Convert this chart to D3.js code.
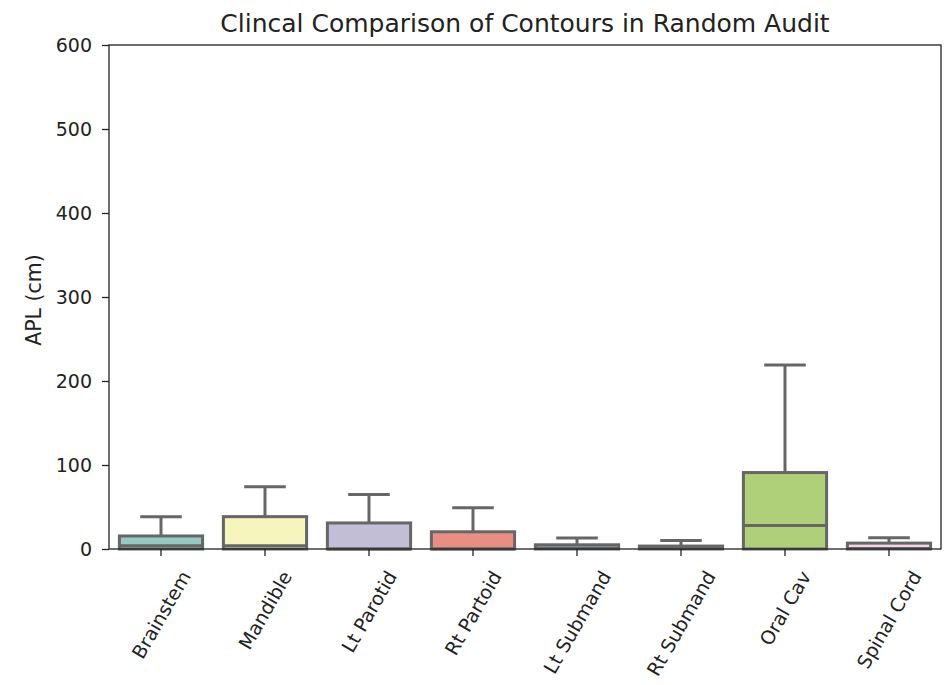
<!DOCTYPE html>
<html lang="en">
<head>
<meta charset="UTF-8">
<title>Clincal Comparison of Contours in Random Audit</title>
<script src="https://d3js.org/d3.v7.min.js"></script>
<style>
  body { margin: 0; background: #fff; }
  text { font-family: "DejaVu Sans", sans-serif; fill: #222; }
</style>
</head>
<body>
<div id="chart"></div>
<script>
// data (APL in cm)
const categories = ["Brainstem", "Mandible", "Lt Parotid", "Rt Partoid", "Lt Submand", "Rt Submand", "Oral Cav", "Spinal Cord"];
const whiskerLow = [0, 0, 0, 0, 0, 0, 0, 0];
const q1 = [0, 0, 0, 0, 0, 0, 0, 0];
const median = [4, 4, 0, 0, 1, 0.5, 28, 0.5];
const q3 = [15.5, 38.5, 31, 20.5, 5, 3.5, 91, 7];
const whiskerHigh = [38.5, 74, 65, 49, 13, 10, 219, 13.5];
const yTicks = [0, 100, 200, 300, 400, 500, 600];
const palette = ["#8dd3c7", "#ffffb3", "#bebada", "#fb8072", "#80b1d3", "#fdb462", "#b3de69", "#fccde5"];

const width = 946, height = 685;
const margin = {top: 45, right: 5, bottom: 136, left: 109};
const lineColor = "#666666";
const tickFont = 19;

const svg = d3.select("#chart").append("svg")
    .attr("width", width)
    .attr("height", height);

const x = d3.scaleBand()
    .domain(categories)
    .range([margin.left, width - margin.right])
    .paddingInner(0.2)
    .paddingOuter(0.1);

const y = d3.scaleLinear()
    .domain([0, 600])
    .range([height - margin.bottom, margin.top]);

// seaborn-style desaturated fills
const fill = (c) => { const h = d3.hsl(c); h.s *= 0.75; return h.formatHex(); };

const rows = categories.map((c, i) => ({
  name: c, lo: whiskerLow[i], q1: q1[i], med: median[i], q3: q3[i], hi: whiskerHigh[i], color: fill(palette[i])
}));

const g = svg.append("g");
const bw = x.bandwidth();

const box = g.selectAll("g.box").data(rows).join("g").attr("class", "box");

// whiskers
box.append("line")
    .attr("x1", d => x(d.name) + bw / 2).attr("x2", d => x(d.name) + bw / 2)
    .attr("y1", d => y(d.q3)).attr("y2", d => y(d.hi))
    .attr("stroke", lineColor).attr("stroke-width", 3);
box.append("line")
    .attr("x1", d => x(d.name) + bw / 4).attr("x2", d => x(d.name) + bw * 3 / 4)
    .attr("y1", d => y(d.hi)).attr("y2", d => y(d.hi))
    .attr("stroke", lineColor).attr("stroke-width", 3);

box.append("rect")
    .attr("x", d => x(d.name))
    .attr("width", bw)
    .attr("y", d => y(d.q3))
    .attr("height", d => y(d.q1) - y(d.q3))
    .attr("fill", d => d.color)
    .attr("stroke", lineColor)
    .attr("stroke-width", 3);

box.append("line")
    .attr("x1", d => x(d.name)).attr("x2", d => x(d.name) + bw)
    .attr("y1", d => y(d.med)).attr("y2", d => y(d.med))
    .attr("stroke", lineColor).attr("stroke-width", 3);

// axes
const yAxis = svg.append("g")
    .attr("transform", `translate(${margin.left},0)`)
    .call(d3.axisLeft(y).tickValues(yTicks).tickSize(7).tickPadding(10));
yAxis.selectAll("text").style("font-size", tickFont + "px");
yAxis.select(".domain").remove();

const xAxis = svg.append("g")
    .attr("transform", `translate(0,${height - margin.bottom})`)
    .call(d3.axisBottom(x).tickSize(7));
xAxis.select(".domain").remove();

// rotated labels, bounding box centred under each tick (matplotlib ha=center)
const ang = 60 * Math.PI / 180, topGap = 18;
xAxis.selectAll(".tick text")
    .style("font-size", tickFont + "px")
    .attr("text-anchor", "middle")
    .attr("dominant-baseline", "central")
    .attr("y", 0).attr("dy", null)
    .attr("transform", function() {
      const L = this.getComputedTextLength();
      const h = tickFont * 1.17;
      const bh = L * Math.sin(ang) + h * Math.cos(ang);
      return `translate(0,${topGap + bh / 2}) rotate(-60)`;
    });
svg.selectAll(".tick line").attr("stroke", "#222").attr("stroke-width", 1.3);

// frame
svg.append("rect")
    .attr("x", margin.left).attr("y", margin.top)
    .attr("width", width - margin.right - margin.left)
    .attr("height", height - margin.bottom - margin.top)
    .attr("fill", "none").attr("stroke", "#222").attr("stroke-width", 1.3);

svg.append("text")
    .attr("x", (margin.left + width - margin.right) / 2)
    .attr("y", 32)
    .attr("text-anchor", "middle")
    .style("font-size", "25px")
    .text("Clincal Comparison of Contours in Random Audit");

svg.append("text")
    .attr("transform", `translate(41,${(margin.top + height - margin.bottom) / 2 + 3}) rotate(-90)`)
    .attr("text-anchor", "middle")
    .style("font-size", "20.5px")
    .text("APL (cm)");
</script>
</body>
</html>
